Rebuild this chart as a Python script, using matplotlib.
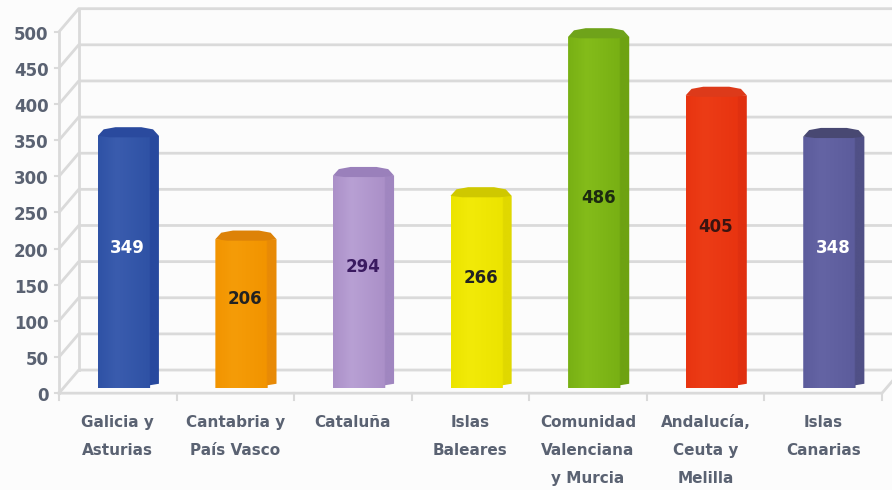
import numpy as np
import matplotlib
matplotlib.use("Agg")
import matplotlib.pyplot as plt
from matplotlib.colors import LinearSegmentedColormap
from matplotlib.patches import Polygon

regiones = ["Galicia y\nAsturias", "Cantabria y\nPaís Vasco", "Cataluña", "Islas\nBaleares",
            "Comunidad\nValenciana\ny Murcia", "Andalucía,\nCeuta y\nMelilla", "Islas\nCanarias"]
valores = [349, 206, 294, 266, 486, 405, 348]
ticks_y = [0, 50, 100, 150, 200, 250, 300, 350, 400, 450, 500]
# claro / medio / lado / tapa
colores = [("#3a5cae", "#2f52a5", "#28499e", "#2a4a9e"),
           ("#f59c08", "#f29400", "#e88a06", "#dd8208"),
           ("#b8a0d4", "#ab90c8", "#a086c0", "#9a80bb"),
           ("#f2ea08", "#ece400", "#e0d800", "#cfc800"),
           ("#84bc1a", "#78b014", "#6ea212", "#6fa31a"),
           ("#ec3c16", "#e83410", "#e03010", "#dd3a1a"),
           ("#6464a4", "#5c5c9c", "#505086", "#484872")]
col_texto = ["white", "#222222", "#3a1a60", "#222222", "#1c2a10", "#3a1410", "white"]

FONDO = "#fcfcfc"
GRIS = "#dadada"
TEXTO = "#5a6272"
DX, DY = 0.168, 32          # profundidad de la caja 3D
OFF_X, ANCHO, TAPA = 0.09, 0.26, 12
BASE = 7

fig = plt.figure(figsize=(8.92, 4.9), dpi=100, facecolor=FONDO)
ax = fig.add_axes([0, 0, 1, 1])
ax.set_xlim(-1.0017, 6.585)
ax.set_ylim(-134, 544)
ax.axis("off")

x0, x1 = -0.5, 6.5
for v in ticks_y:
    ax.plot([x0, x0 + DX, x1 + DX], [v, v + DY, v + DY], color=GRIS, lw=2, zorder=1, solid_capstyle="round")
    ax.plot([x0 - 0.03, x0], [v, v], color=GRIS, lw=1.5, zorder=1)
    ax.text(x0 - 0.09, v - 4, str(v), ha="right", va="center", fontsize=12, color=TEXTO,
            family="DejaVu Sans", weight="bold")
ax.plot([x0, x0], [0, 500], color=GRIS, lw=2, zorder=1)
ax.plot([x0 + DX, x0 + DX], [DY, 500 + DY], color=GRIS, lw=2, zorder=1)
ax.plot([x0, x1, x1 + DX], [0, 0, DY], color=GRIS, lw=2, zorder=1)
for i in range(8):
    ax.plot([x0 + i, x0 + i], [0, -10], color=GRIS, lw=1.5, zorder=1)

for i, (nombre, val, cols, ct) in enumerate(zip(regiones, valores, colores, col_texto)):
    c = i + OFF_X
    izq, der = c - ANCHO, c + ANCHO
    cara = der - 0.075
    top = BASE + val
    cmap = LinearSegmentedColormap.from_list("b", [(0, cols[1]), (0.3, cols[0]), (0.83, cols[1]),
                                                   (0.85, cols[2]), (1, cols[2])])
    img = ax.imshow(np.linspace(0, 1, 128).reshape(1, -1), cmap=cmap, aspect="auto",
                    extent=(izq, der, BASE, top), zorder=3)
    cuerpo = Polygon([(izq, BASE), (cara, BASE), (cara, BASE + 4), (der, BASE + 6), (der, top),
                      (izq, top)], closed=True, transform=ax.transData, fc="none", ec="none")
    ax.add_patch(cuerpo)
    img.set_clip_path(cuerpo)
    ax.add_patch(Polygon([(izq, top), (izq + 0.05, top + TAPA * 0.75), (izq + 0.15, top + TAPA),
                          (der - 0.15, top + TAPA), (der - 0.05, top + TAPA * 0.75), (der, top),
                          (der - 0.1, top - 2), (izq + 0.1, top - 2)],
                         closed=True, fc=cols[3], ec="none", zorder=4))
    ax.text(c - 0.005, BASE + val / 2 + 20, str(val), ha="center", va="center", fontsize=12,
            color=ct, family="DejaVu Sans", weight="bold", zorder=5)
    ax.text(i, -30, nombre, ha="center", va="top", fontsize=11, color=TEXTO,
            family="DejaVu Sans", weight="bold", linespacing=2.08)

fig.savefig("out.png", dpi=100, facecolor=FONDO)
